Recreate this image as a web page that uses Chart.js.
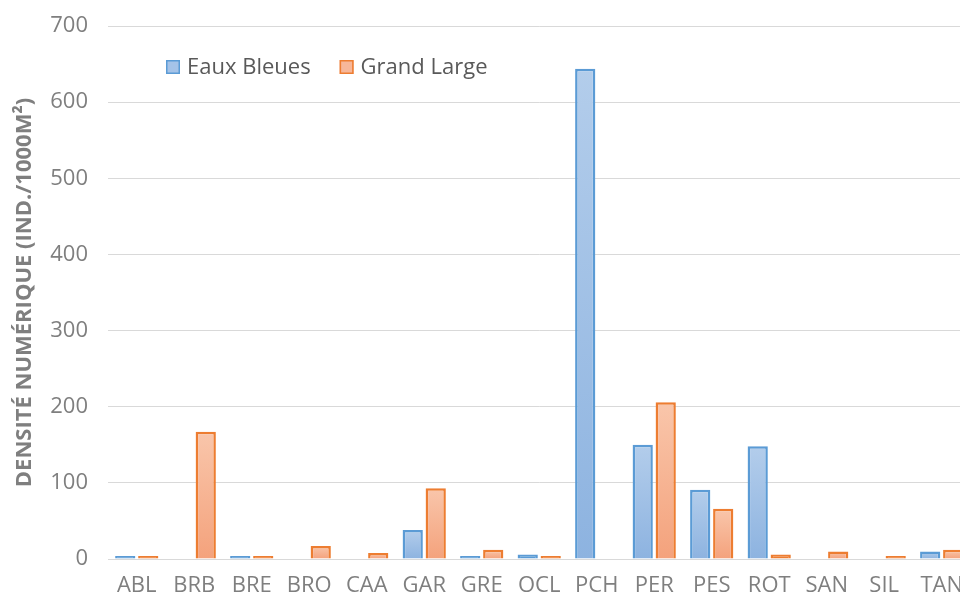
<!DOCTYPE html>
<html>
<head>
<meta charset="utf-8">
<script src="https://cdn.jsdelivr.net/npm/chart.js@4"></script>
<style>
  html, body { margin: 0; padding: 0; background: #fff; overflow: hidden; }
  #wrap { width: 977px; height: 601px; }
</style>
</head>
<body>
<div id="wrap"><canvas id="chart"></canvas></div>
<script>
  const categories = ['ABL', 'BRB', 'BRE', 'BRO', 'CAA', 'GAR', 'GRE', 'OCL', 'PCH', 'PER', 'PES', 'ROT', 'SAN', 'SIL', 'TAN'];
  const eauxBleues = [4, null, 4, null, null, 38, 4, 6, 644, 150, 91, 148, null, null, 10];
  const grandLarge = [4, 167, 4, 17, 8, 93, 12, 4, null, 206, 66, 6, 10, 4, 12];
  const yTicks = [0, 100, 200, 300, 400, 500, 600, 700];

  const GREY = '#7f7f7f';
  const FONT = '"Open Sans", sans-serif';

  // gradient per bar, light at the top, a bit darker at the base
  function barFill(light, dark, edge){
    return function(ctx){
      const chart = ctx.chart;
      if (!chart.chartArea || ctx.raw == null) return dark;
      const y = chart.scales.y;
      const top = y.getPixelForValue(ctx.raw);
      const bot = y.getPixelForValue(0);
      if (bot - top < 6) return edge; // tiny bars are just the outline colour
      const g = chart.ctx.createLinearGradient(0, top, 0, bot);
      g.addColorStop(0, light);
      g.addColorStop(1, dark);
      return g;
    };
  }

  // legend drawn inside the plot, top-left, like the original
  const insideLegend = {
    id: 'insideLegend',
    afterDraw(chart){
      const c = chart.ctx;
      let x = 166;
      const y = 67;
      c.save();
      c.font = '22px ' + FONT;
      c.textBaseline = 'middle';
      chart.data.datasets.forEach(ds => {
        c.fillStyle = ds.legendFill;
        c.fillRect(x, y - 7, 14, 14);
        c.strokeStyle = ds.borderColor;
        c.lineWidth = 1.5;
        c.strokeRect(x + 0.75, y - 6.25, 12.5, 12.5);
        c.fillStyle = '#595959';
        c.fillText(ds.label, x + 21, y + 1);
        x += 21 + c.measureText(ds.label).width + 29;
      });
      c.restore();
    }
  };

  new Chart(document.getElementById('chart'), {
    type: 'bar',
    data: {
      labels: categories,
      datasets: [{
        label: 'Eaux Bleues',
        data: eauxBleues,
        backgroundColor: barFill('#b3cdeb', '#8db3e0', '#5b9bd5'),
        legendFill: '#a5c3e8',
        borderColor: '#5b9bd5',
        borderWidth: 2.5
      }, {
        label: 'Grand Large',
        data: grandLarge,
        backgroundColor: barFill('#f9c6ab', '#f4a27c', '#ed7d31'),
        legendFill: '#f7b799',
        borderColor: '#ed7d31',
        borderWidth: 2.5
      }]
    },
    options: {
      responsive: true,
      maintainAspectRatio: false,
      animation: false,
      categoryPercentage: 0.8,
      barPercentage: 0.88,
      layout: { padding: { top: 26, right: 0, left: 0, bottom: 0 } },
      scales: {
        x: {
          grid: { display: false, drawTicks: false },
          border: { display: true, color: '#d9d9d9', width: 1 },
          ticks: { color: GREY, font: { family: FONT, size: 22 }, padding: 14, maxRotation: 0, autoSkip: false },
          afterFit(scale){ scale.height = 42; }
        },
        y: {
          min: 0,
          max: 700,
          afterBuildTicks(scale){ scale.ticks = yTicks.map(v => ({ value: v })); },
          grid: { color: '#d9d9d9', lineWidth: 1, drawTicks: false },
          border: { display: false },
          ticks: { color: GREY, font: { family: FONT, size: 22 }, padding: 20 },
          title: {
            display: true,
            text: 'DENSITÉ NUMÉRIQUE (IND./1000M²)',
            color: GREY,
            font: { family: FONT, size: 22, weight: 'bold' },
            padding: { top: 12, bottom: 0 }
          },
          afterFit(scale){
            scale.width = 108;
            // tick padding would otherwise push the plot top down
            scale.paddingTop = 0;
            scale.paddingBottom = 0;
          }
        }
      },
      plugins: {
        legend: { display: false },
        tooltip: { enabled: false }
      }
    },
    plugins: [insideLegend]
  });
</script>
</body>
</html>
